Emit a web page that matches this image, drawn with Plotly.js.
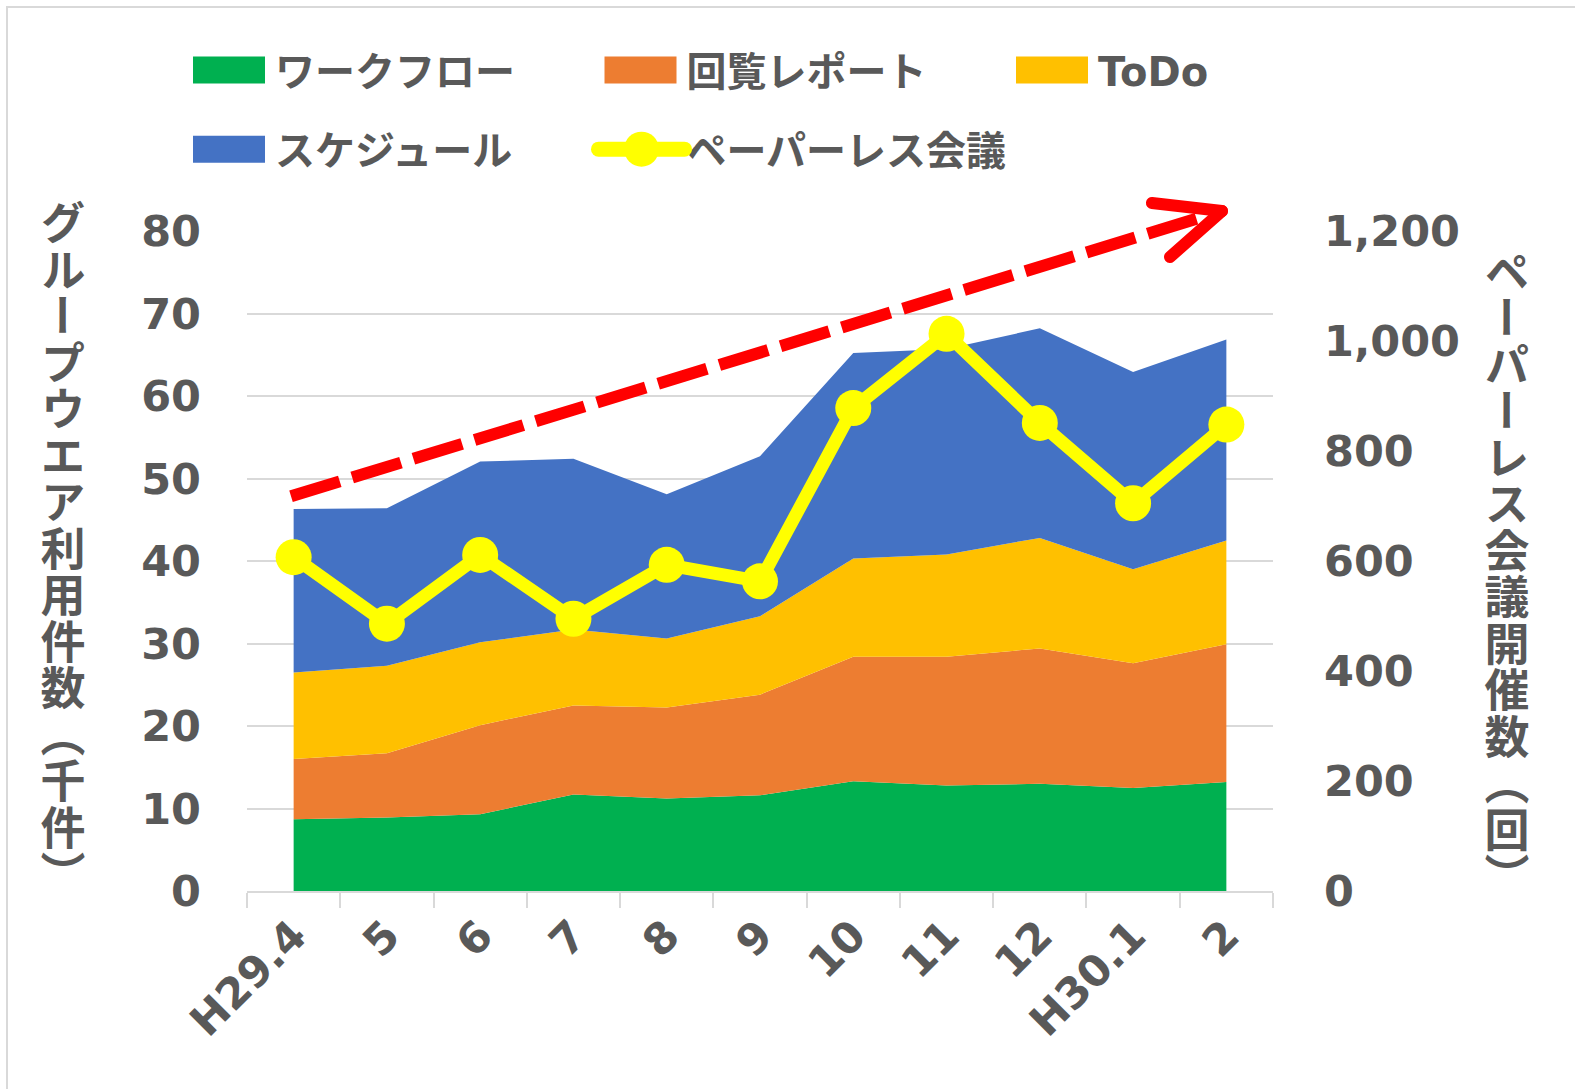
<!DOCTYPE html>
<html>
<head>
<meta charset="utf-8">
<script src="https://cdn.plot.ly/plotly-3.0.1.min.js"></script>
<style>
  html, body { margin: 0; padding: 0; background: #ffffff; }
  #chart { width: 1575px; height: 1089px; }
</style>
</head>
<body>
<div id="chart"></div>
<script>
// ---- data ----
const categories = ['H29.4', '5', '6', '7', '8', '9', '10', '11', '12', 'H30.1', '2'];
const workflow = [8.7, 8.9, 9.3, 11.7, 11.2, 11.6, 13.3, 12.8, 13.0, 12.5, 13.2];
const kairanReport = [7.3, 7.8, 10.8, 10.8, 11.05, 12.2, 15.1, 15.6, 16.4, 15.1, 16.7];
const todo = [10.5, 10.6, 10.05, 9.2, 8.35, 9.5, 11.9, 12.4, 13.4, 11.4, 12.6];
const schedule = [19.8, 19.1, 21.9, 20.7, 17.5, 19.4, 24.9, 24.9, 25.4, 23.9, 24.35];
const paperlessMeetings = [607, 486, 611, 495, 593, 563, 878, 1013, 851, 705, 848];

const seriesNames = ['ワークフロー', '回覧レポート', 'ToDo', 'スケジュール', 'ペーパーレス会議'];
const leftTitle = 'グループウエア利用件数（千件）';
const rightTitle = 'ペーパーレス会議開催数（回）';

const colors = ['#00B050', '#ED7D31', '#FFC000', '#4472C4', '#FFFF00'];
const textColor = '#595959';
const gridColor = '#D9D9D9';
const latinFont = 'DejaVu Sans, Noto Sans CJK JP, sans-serif';
const cjkFont = 'Noto Sans CJK JP, sans-serif';

const areaSeries = [workflow, kairanReport, todo, schedule];

const traces = areaSeries.map((vals, i) => ({
  type: 'scatter',
  x: categories,
  y: vals,
  name: seriesNames[i],
  stackgroup: 'one',
  mode: 'none',
  fill: 'tonexty',
  fillcolor: colors[i],
  line: { width: 0, color: colors[i] },
  legend: i < 3 ? 'legend' : 'legend2',
  hoverinfo: 'x+y+name'
}));

traces.push({
  type: 'scatter',
  x: categories,
  y: paperlessMeetings,
  name: seriesNames[4],
  yaxis: 'y2',
  mode: 'lines+markers',
  line: { color: colors[4], width: 13 },
  marker: { color: colors[4], size: 36, symbol: 'circle' },
  legend: 'legend2',
  cliponaxis: false
});

const tickFont = { family: latinFont, size: 43, color: textColor, weight: 'bold' };
const legendFont = { family: latinFont, size: 40, color: textColor, weight: 'bold' };

const legendBase = {
  orientation: 'h',
  xanchor: 'left',
  yanchor: 'middle',
  x: -0.0575,
  font: legendFont,
  bgcolor: 'rgba(0,0,0,0)',
  itemwidth: 77,
  entrywidth: 319.5,
  entrywidthmode: 'pixels',
  traceorder: 'normal',
  itemclick: false,
  itemdoubleclick: false
};

const layout = {
  width: 1575,
  height: 1089,
  paper_bgcolor: '#ffffff',
  plot_bgcolor: '#ffffff',
  margin: { l: 247, r: 302, t: 231, b: 198, autoexpand: false },
  showlegend: true,
  legend: Object.assign({}, legendBase, { y: 1.244 }),
  legend2: Object.assign({}, legendBase, { y: 1.124 }),
  xaxis: {
    type: 'category',
    range: [-0.5, 10.5],
    tickson: 'boundaries',
    ticks: 'outside',
    ticklen: 15,
    tickwidth: 2,
    tickcolor: gridColor,
    showline: true,
    linecolor: gridColor,
    linewidth: 2,
    showgrid: false,
    zeroline: false,
    tickangle: -45,
    tickfont: tickFont,
    fixedrange: true
  },
  yaxis: {
    range: [0, 80],
    dtick: 10,
    tick0: 0,
    showgrid: true,
    gridcolor: gridColor,
    gridwidth: 2,
    zeroline: false,
    showline: false,
    ticks: '',
    tickfont: tickFont,
    ticklabelstandoff: 45,
    fixedrange: true
  },
  yaxis2: {
    overlaying: 'y',
    side: 'right',
    range: [0, 1200],
    dtick: 200,
    tick0: 0,
    tickformat: ',d',
    showgrid: false,
    zeroline: false,
    showline: false,
    ticks: '',
    tickfont: tickFont,
    ticklabelstandoff: 50,
    fixedrange: true
  },
  annotations: [
    {
      text: leftTitle, xref: 'paper', yref: 'paper', x: -0.1793, y: 0.518,
      xanchor: 'center', yanchor: 'middle', showarrow: false, textangle: 0,
      font: { family: cjkFont, size: 45, color: textColor, weight: 'bold' }
    },
    {
      text: rightTitle, xref: 'paper', yref: 'paper', x: 1.228, y: 0.479,
      xanchor: 'center', yanchor: 'middle', showarrow: false, textangle: 0,
      font: { family: cjkFont, size: 45, color: textColor, weight: 'bold' }
    }
  ],
  shapes: [
    // chart border
    { type: 'rect', xref: 'paper', yref: 'paper', x0: -0.2339, y0: -0.5, x1: 1.5, y1: 1.3394,
      line: { color: gridColor, width: 2 }, fillcolor: 'rgba(0,0,0,0)', layer: 'below' },
    // red dashed trend arrow
    { type: 'line', xref: 'paper', yref: 'paper', x0: 0.0429, y0: 0.598, x1: 0.9503, y1: 1.0303,
      line: { color: '#FF0000', width: 12, dash: '51px,13px' }, layer: 'above' },
    { type: 'line', xref: 'paper', yref: 'paper', x0: 0.882, y0: 1.0424, x1: 0.9503, y1: 1.0303,
      line: { color: '#FF0000', width: 12 }, layer: 'above' },
    { type: 'line', xref: 'paper', yref: 'paper', x0: 0.8996, y0: 0.9606, x1: 0.9503, y1: 1.0303,
      line: { color: '#FF0000', width: 12 }, layer: 'above' }
  ]
};

const gd = document.getElementById('chart');

function restyleDecorations() {
  // enlarge legend swatches to match the reference (both legends)
  gd.querySelectorAll('g.traces').forEach(function (item) {
    const txt = item.querySelector('text.legendtext, text.legend2text');
    if (!txt) return;
    const tx = parseFloat(txt.getAttribute('x')) || 0;
    const layers = item.querySelector('g.layers');
    if (layers) layers.removeAttribute('transform');
    const hasFill = item.querySelectorAll('.legendfill path').length > 0;
    item.querySelectorAll('.legendfill path').forEach(function (p) {
      p.setAttribute('d', 'M' + (tx - 82) + ',-13.5h72v27h-72z');
      p.removeAttribute('transform');
    });
    item.querySelectorAll('.legendlines path').forEach(function (p) {
      if (hasFill) { p.style.display = 'none'; return; }
      p.setAttribute('d', 'M' + (tx - 88) + ',0h86');
      p.style.strokeWidth = '15px';
      p.style.strokeLinecap = 'round';
      p.removeAttribute('transform');
    });
    item.querySelectorAll('.legendpoints path.scatterpts').forEach(function (p) {
      const r = 17.5;
      p.setAttribute('d', 'M' + r + ',0A' + r + ',' + r + ' 0 1,1 0,-' + r + 'A' + r + ',' + r + ' 0 0,1 ' + r + ',0Z');
      p.setAttribute('transform', 'translate(' + (tx - 45) + ',0)');
    });
  });
  // round caps on the arrow head arms
  gd.querySelectorAll('.layer-above .shapelayer path').forEach(function (p, i) {
    if (i > 0) p.style.strokeLinecap = 'round';
  });
  // vertical (tategaki) axis titles
  gd.querySelectorAll('.annotation').forEach(function (ann) {
    const txt = ann.querySelector('text.annotation-text');
    const bg = ann.querySelector('rect.bg');
    if (!txt || !bg) return;
    const bx = parseFloat(bg.getAttribute('x')) || 0;
    const by = parseFloat(bg.getAttribute('y')) || 0;
    const bw = parseFloat(bg.getAttribute('width')) || 0;
    const bh = parseFloat(bg.getAttribute('height')) || 0;
    txt.style.writingMode = 'vertical-rl';
    txt.style.textOrientation = 'mixed';
    txt.style.letterSpacing = '1.5px';
    txt.setAttribute('text-anchor', 'middle');
    txt.setAttribute('x', bx + bw / 2);
    txt.setAttribute('y', by + bh / 2);
    txt.querySelectorAll('tspan').forEach(function (t) {
      t.removeAttribute('x'); t.removeAttribute('y'); t.removeAttribute('dy');
    });
  });
}

Plotly.newPlot(gd, traces, layout, { staticPlot: true, displayModeBar: false }).then(function () {
  restyleDecorations();
  gd.on('plotly_afterplot', restyleDecorations);
});
</script>
</body>
</html>
